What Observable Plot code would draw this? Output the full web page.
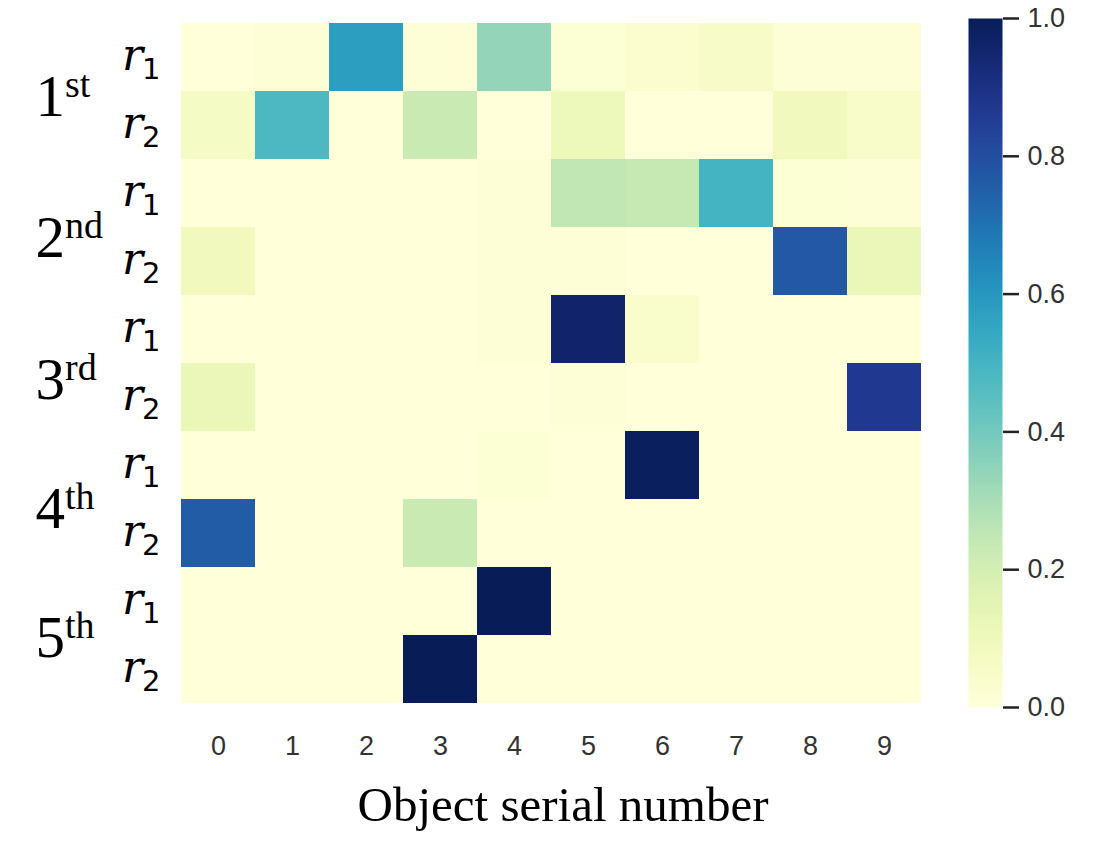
<!DOCTYPE html>
<html>
<head>
<meta charset="utf-8">
<script src="https://cdn.jsdelivr.net/npm/d3@7"></script>
<script src="https://cdn.jsdelivr.net/npm/@observablehq/plot@0.6"></script>
<style>
  html, body { margin: 0; padding: 0; background: #fff; }
  #wrap { position: relative; width: 1112px; height: 864px; }
  #wrap svg { position: absolute; top: 0; max-width: none !important; }
</style>
</head>
<body>
<div id="wrap"></div>
<script>
// ---- data ----
const stages = ["1st", "2nd", "3rd", "4th", "5th"];
const relations = ["r1", "r2"];
const objects = [0, 1, 2, 3, 4, 5, 6, 7, 8, 9];
const colorTicks = [0, 0.2, 0.4, 0.6, 0.8, 1.0];
// one row per (stage, relation), one value per object
const values = [
  [0.00, 0.01, 0.58, 0.01, 0.34, 0.02, 0.03, 0.06, 0.01, 0.01], // 1st r1
  [0.07, 0.48, 0.00, 0.23, 0.00, 0.11, 0.00, 0.00, 0.09, 0.05], // 1st r2
  [0.00, 0.00, 0.00, 0.00, 0.01, 0.25, 0.24, 0.50, 0.02, 0.01], // 2nd r1
  [0.09, 0.00, 0.00, 0.00, 0.01, 0.01, 0.00, 0.00, 0.77, 0.12], // 2nd r2
  [0.00, 0.00, 0.00, 0.00, 0.01, 0.96, 0.04, 0.00, 0.00, 0.00], // 3rd r1
  [0.12, 0.00, 0.00, 0.00, 0.00, 0.01, 0.00, 0.00, 0.00, 0.87], // 3rd r2
  [0.00, 0.00, 0.00, 0.00, 0.02, 0.00, 0.99, 0.00, 0.00, 0.00], // 4th r1
  [0.76, 0.00, 0.00, 0.23, 0.00, 0.00, 0.00, 0.00, 0.00, 0.00], // 4th r2
  [0.00, 0.00, 0.00, 0.00, 1.00, 0.00, 0.00, 0.00, 0.00, 0.00], // 5th r1
  [0.00, 0.00, 0.00, 1.00, 0.00, 0.00, 0.00, 0.00, 0.00, 0.00]  // 5th r2
];

// ---- build table ----
const rowIds = [];
stages.forEach(s => relations.forEach(r => rowIds.push(s + "|" + r)));
const cells = [];
rowIds.forEach((rid, i) => objects.forEach((o, j) => cells.push({row: rid, obj: o, v: values[i][j]})));
const rowLabels = rowIds.map(rid => ({row: rid, rel: rid.split("|")[1]}));

// layout: vertical nudges of the hand-placed stage labels (px)
const stageNudge = [1, 6, 12, 5, -2];

const W = 1112, H = 864;
const colorOpts = {type: "linear", scheme: "ylgnbu", domain: [0, 1]};
const tickFont = "'Liberation Sans', Arial, sans-serif";

const main = Plot.plot({
  width: W, height: H,
  marginLeft: 181, marginRight: 191, marginTop: 18, marginBottom: 157,
  style: {background: "transparent", overflow: "visible"},
  x: {type: "band", domain: objects, padding: 0, label: null},
  y: {type: "band", domain: rowIds, padding: 0, axis: null},
  color: colorOpts,
  marks: [
    Plot.cell(cells, {x: "obj", y: "row", fill: "v", inset: 0}),
    Plot.axisX({anchor: "bottom", tickSize: 0, tickPadding: 28, fontSize: 27,
      fontFamily: tickFont, fill: "#333", label: null}),
    Plot.text(rowLabels, {y: "row", text: "rel", frameAnchor: "left", dx: -21,
      textAnchor: "end", lineAnchor: "middle", fill: "#000"}),
    ...stages.map((s, i) => Plot.text([s], {y: () => s + "|r1", text: d => d,
      frameAnchor: "left", dx: -146, dy: 34.45 + stageNudge[i],
      textAnchor: "start", lineAnchor: "middle", fill: "#000"})),
    Plot.text(["Object serial number"], {frameAnchor: "bottom", lineAnchor: "middle",
      dy: 98, dx: 11.5, text: d => d, fontSize: 49,
      fontFamily: "'Liberation Serif', 'Times New Roman', serif", fill: "#000"})
  ]
});

// rich text: italic r with subscript, ordinal with superscript
d3.select(main).selectAll("text").each(function() {
  const t = d3.select(this);
  const s = t.text();
  if (/^r\d$/.test(s)) {
    t.text("").attr("dy", null);
    t.append("tspan").attr("font-family", "'DejaVu Serif', serif").attr("font-style", "italic")
      .attr("font-size", 44).attr("dy", 9.6).text(s[0]);
    t.append("tspan").attr("font-family", "'DejaVu Sans', sans-serif")
      .attr("font-size", 29).attr("dy", 9).attr("dx", -1).text(s.slice(1));
  } else if (/^\d(st|nd|rd|th)$/.test(s)) {
    t.text("").attr("dy", null);
    t.attr("font-family", "'Liberation Serif', 'Times New Roman', serif");
    t.append("tspan").attr("font-size", 59).attr("dy", 20).text(s[0]);
    t.append("tspan").attr("font-size", 38).attr("dy", -19).text(s.slice(1));
  }
});

// colorbar as second plot with the same color scale definition
const cbar = Plot.plot({
  width: 144, height: H,
  marginLeft: 0, marginRight: 110, marginTop: 18, marginBottom: 157,
  style: {background: "transparent", overflow: "visible"},
  x: {domain: [0, 1], axis: null},
  y: {domain: [0, 1], axis: null},
  color: colorOpts,
  marks: [
    Plot.raster({fill: (x, y) => y, x1: 0, x2: 1, y1: 0, y2: 1, width: 1, height: 400, imageRendering: "auto"}),
    Plot.axisY(colorTicks, {anchor: "right", tickSize: 16, tickPadding: 9, strokeWidth: 2.5,
      stroke: "#222", tickFormat: d3.format(".1f"), fontSize: 27,
      fontFamily: tickFont, fill: "#333", label: null})
  ]
});
cbar.style.left = "968px";

// make sure tick label sizes stick
[main, cbar].forEach(svg => {
  d3.select(svg).selectAll("text").each(function() {
    const s = d3.select(this).text();
    if (/^(\d|\d\.\d)$/.test(s)) {
      d3.select(this).attr("font-size", 27).style("font-size", "27px")
        .attr("font-family", tickFont).attr("fill", "#333");
    }
  });
});

const wrap = document.getElementById("wrap");
wrap.appendChild(main);
wrap.appendChild(cbar);
</script>
</body>
</html>
